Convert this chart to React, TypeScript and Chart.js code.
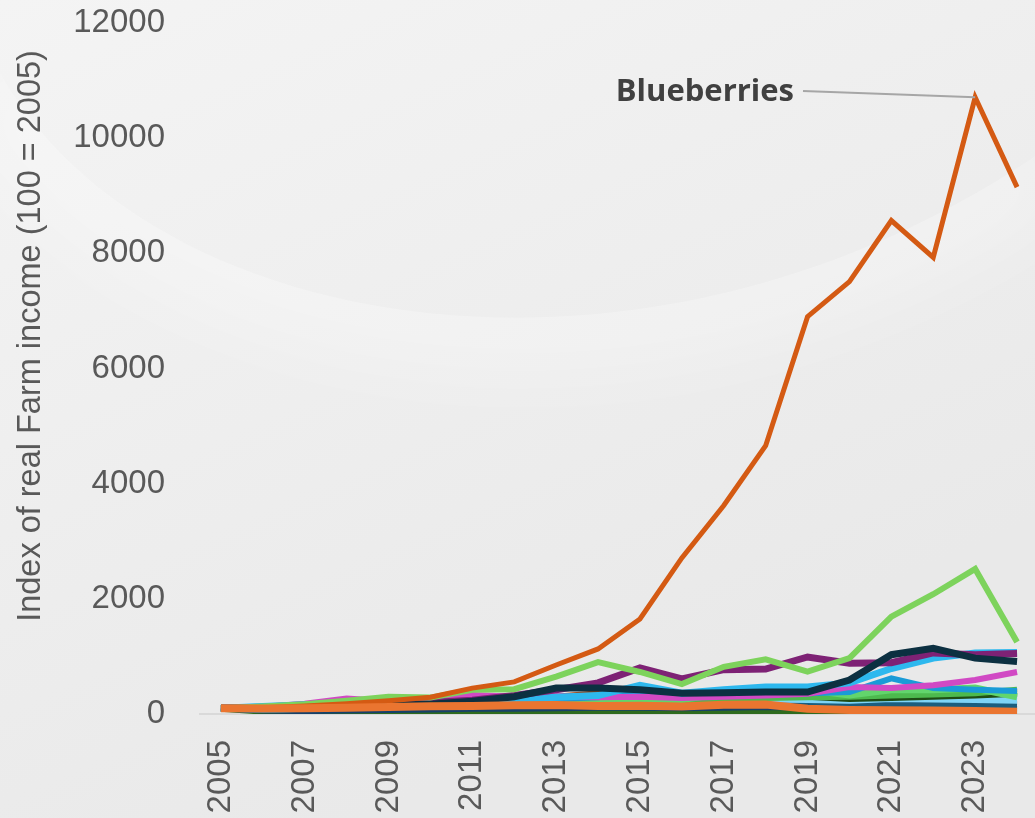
import React, { useEffect, useRef } from "react";
import { Chart, registerables } from "chart.js";

Chart.register(...registerables);

const years = ["2005","2006","2007","2008","2009","2010","2011","2012","2013","2014","2015","2016","2017","2018","2019","2020","2021","2022","2023","2024"];
const yTicks = [0, 2000, 4000, 6000, 8000, 10000, 12000];

const orangeCrop = [100, 95, 100, 110, 120, 135, 140, 150, 155, 140, 145, 130, 160, 165, 90, 70, 65, 60, 50, 40];
const blueberries = [100, 110, 140, 180, 230, 290, 450, 557, 850, 1130, 1650, 2710, 3620, 4660, 6900, 7510, 8570, 7930, 10710, 9150];
const lightGreenCrop = [100, 130, 170, 230, 300, 285, 420, 430, 650, 900, 730, 520, 820, 950, 735, 970, 1690, 2080, 2520, 1250];
const navyCrop = [100, 90, 100, 130, 150, 170, 220, 300, 450, 450, 420, 360, 370, 380, 380, 590, 1030, 1140, 970, 910];
const purpleCrop = [100, 110, 130, 160, 190, 200, 240, 320, 420, 540, 800, 610, 770, 780, 990, 880, 890, 1060, 1030, 1050];
const skyCrop = [100, 130, 160, 190, 190, 200, 220, 250, 290, 320, 500, 360, 420, 470, 470, 540, 790, 970, 1060, 1070];
const magentaCrop = [100, 120, 180, 270, 220, 210, 330, 300, 310, 290, 300, 280, 300, 320, 350, 470, 450, 500, 590, 730];
const mediumBlueCrop = [100, 70, 90, 120, 140, 160, 190, 220, 260, 290, 380, 320, 330, 350, 360, 380, 620, 450, 420, 400];
const greenCrop = [100, 110, 130, 150, 170, 180, 200, 220, 240, 250, 260, 250, 360, 420, 420, 330, 420, 420, 450, 300];
const midGreenCrop = [100, 120, 140, 160, 180, 190, 200, 210, 230, 240, 250, 240, 260, 280, 290, 300, 320, 340, 360, 420];
const darkGreenCrop2 = [100, 110, 120, 140, 160, 170, 180, 200, 210, 220, 230, 220, 280, 300, 300, 260, 280, 300, 320, 350];
const brownCrop = [100, 110, 130, 150, 180, 200, 220, 260, 300, 360, 300, 280, 300, 320, 330, 340, 370, 380, 400, 380];
const lightCyanCrop = [100, 120, 140, 160, 170, 180, 200, 210, 220, 230, 250, 240, 250, 260, 250, 240, 270, 260, 250, 240];
const lightPinkCrop = [100, 110, 130, 160, 180, 190, 210, 220, 230, 230, 240, 230, 240, 250, 260, 270, 280, 290, 300, 310];
const tealCrop = [100, 80, 100, 110, 120, 130, 140, 150, 160, 170, 180, 170, 180, 190, 180, 170, 190, 180, 170, 160];
const darkBlueCrop = [100, 60, 50, 60, 70, 80, 90, 90, 100, 110, 110, 100, 110, 120, 110, 100, 110, 100, 100, 90];
const darkGreenCrop = [100, 50, 40, 40, 30, 40, 20, 20, 20, 30, 30, 40, 20, 30, 10, 10, 20, 10, 10, 10];

export default function App() {
  const ref = useRef<HTMLCanvasElement>(null);

  useEffect(() => {
    document.body.style.margin = "0";
    const curve = (ctx: CanvasRenderingContext2D) => {
      ctx.moveTo(0, 73);
      ctx.bezierCurveTo(150, 340, 650, 420, 1040, 153);
    };
    const bgPlugin = {
      id: "bg",
      beforeDraw(chart: any) {
        const { ctx, width, height } = chart;
        ctx.save();
        const g = ctx.createLinearGradient(0, 0, width * 0.35, height);
        g.addColorStop(0, "#F4F4F4");
        g.addColorStop(1, "#E9E9E9");
        ctx.fillStyle = g;
        ctx.fillRect(0, 0, width, height);
        ctx.beginPath();
        curve(ctx);
        ctx.lineTo(width, height);
        ctx.lineTo(0, height);
        ctx.closePath();
        ctx.clip();
        ctx.filter = "blur(35px)";
        ctx.beginPath();
        curve(ctx);
        ctx.lineWidth = 120;
        ctx.strokeStyle = "rgba(255,255,255,0.28)";
        ctx.stroke();
        ctx.restore();
      },
    };
    const annoPlugin = {
      id: "anno",
      afterDraw(chart: any) {
        const { ctx } = chart;
        const pt = chart.getDatasetMeta(1).data[18];
        ctx.save();
        ctx.strokeStyle = "#A6A6A6";
        ctx.lineWidth = 2;
        ctx.beginPath();
        ctx.moveTo(803, 91);
        ctx.lineTo(pt.x, pt.y);
        ctx.stroke();
        ctx.fillStyle = "#404040";
        ctx.font = 'bold 31px "Open Sans"';
        ctx.textAlign = "right";
        ctx.textBaseline = "middle";
        ctx.fillText("Blueberries", 794, 92);
        ctx.translate(40, 336);
        ctx.rotate(-Math.PI / 2);
        ctx.font = '32.5px "Liberation Sans"';
        ctx.fillStyle = "#595959";
        ctx.textAlign = "center";
        ctx.textBaseline = "alphabetic";
        ctx.fillText("Index of real Farm income (100 = 2005)", 0, 0);
        ctx.restore();
      },
    };

    const series: [string, number[], string, number][] = [
      ["Crop A", orangeCrop, "#EA7530", 8],
      ["Blueberries", blueberries, "#D45A13", 5],
      ["Crop B", lightGreenCrop, "#7DD35C", 6],
      ["Crop C", navyCrop, "#0C3041", 7],
      ["Crop D", purpleCrop, "#7E2275", 7],
      ["Crop E", skyCrop, "#2DB8EE", 7],
      ["Crop F", magentaCrop, "#D149C4", 6],
      ["Crop G", mediumBlueCrop, "#1A9BD7", 6],
      ["Crop H", greenCrop, "#62D56C", 7],
      ["Crop I", midGreenCrop, "#4DBA4E", 6],
      ["Crop J", darkGreenCrop2, "#1E4D14", 6],
      ["Crop K", brownCrop, "#A2430F", 6],
      ["Crop L", lightCyanCrop, "#7ED4F7", 7],
      ["Crop M", lightPinkCrop, "#E39ADB", 6],
      ["Crop N", tealCrop, "#1B5E7E", 7],
      ["Crop O", darkBlueCrop, "#16406A", 6],
      ["Crop P", darkGreenCrop, "#2E6B1E", 7],
    ];

    const chart = new Chart(ref.current!, {
      type: "line",
      data: {
        labels: years,
        datasets: series.map(([label, data, color, w]) => ({
          label,
          data,
          borderColor: color,
          backgroundColor: color,
          borderWidth: w,
          pointRadius: 0,
          tension: 0,
          fill: false,
        })),
      },
      options: {
        responsive: false,
        animation: false,
        devicePixelRatio: 1,
        layout: { padding: { top: 23, right: 2, left: 0, bottom: 0 } },
        plugins: { legend: { display: false }, tooltip: { enabled: false } },
        scales: {
          x: {
            offset: true,
            grid: { display: false, drawTicks: false },
            border: { display: true, color: "#D9D9D9", width: 2 },
            ticks: {
              autoSkip: false,
              minRotation: 90,
              maxRotation: 90,
              padding: 26,
              color: "#595959",
              font: { family: '"Liberation Sans", Arial, sans-serif', size: 33 },
              callback: (_v: any, i: number) => (i % 2 === 0 ? years[i] : ""),
            },
            afterFit: (s: any) => {
              s.height = 104;
              s.paddingLeft = 0;
              s.paddingRight = 0;
            },
          },
          y: {
            min: yTicks[0],
            max: yTicks[yTicks.length - 1],
            afterBuildTicks: (s: any) => { s.ticks = yTicks.map((v) => ({ value: v })); },
            grid: { display: false, drawTicks: false },
            border: { display: false },
            ticks: {
              padding: 35,
              color: "#595959",
              font: { family: '"Liberation Sans", Arial, sans-serif', size: 33 },
              callback: (v: any) => String(v),
            },
            afterFit: (s: any) => {
              s.width = 200;
              s.paddingTop = 0;
              s.paddingBottom = 0;
            },
          },
        },
      },
      plugins: [bgPlugin, annoPlugin],
    });
    return () => chart.destroy();
  }, []);

  return (
    <div style={{ width: 1035, height: 818, overflow: "hidden", position: "relative" }}>
      <canvas ref={ref} width={1040} height={818} style={{ display: "block" }} />
    </div>
  );
}
